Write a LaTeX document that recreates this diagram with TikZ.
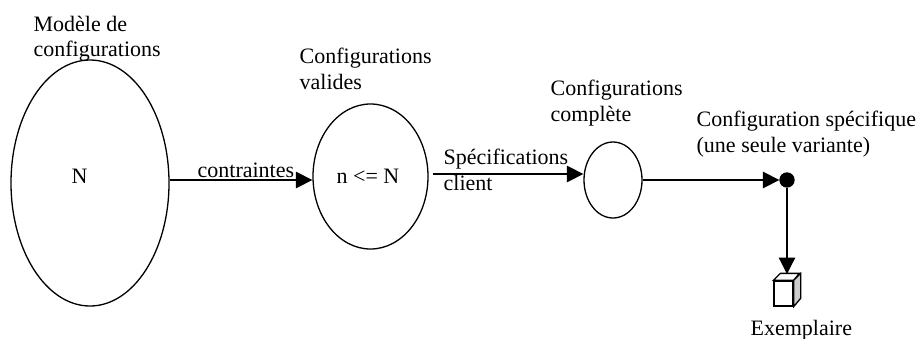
\documentclass[tikz,border=0pt]{standalone}
\usepackage{fontspec}
\setmainfont{Liberation Serif}
\usetikzlibrary{shapes.geometric,arrows.meta}

\begin{document}
\begin{tikzpicture}[x=1pt, y=-1pt, line width=1.3pt,
    main/.style = {draw, ellipse, inner sep=0pt},
    lbl/.style = {inner sep=0pt, align=left, anchor=base west, font=\fontsize{22}{25.7}\selectfont},
    fleche/.style = {-{Triangle[length=16.5pt,width=16.5pt]}}]
            \useasboundingbox (0,0) rectangle (918,338);

            \node[main,minimum width=158pt,minimum height=246pt] (modele) at (90,183) {};
            \node[main,minimum width=115pt,minimum height=145pt] (valides) at (370.5,176.5) {};
            \node[main,minimum width=58pt,minimum height=76pt] (complete) at (613,180) {};
            \node[draw,circle,fill=black,inner sep=0pt,minimum size=14pt] (dot) at (787,180) {};
            \node[draw,fill=white,inner sep=0pt,minimum width=19pt,minimum height=25pt] (boite) at (783.5,293.5) {};
            \draw[fill=white] (boite.north west) -- ++(7,-7) -- ++(19,0) -- (boite.north east) -- cycle;
            \draw[fill=black!20] (boite.north east) -- ++(7,-7) -- ++(0,25) -- (boite.south east) -- cycle;
            \coordinate (boitehaut) at (787,274);
            \coordinate (specdebut) at (433,174);

            \node[lbl] (l1a) at (33,31) {Modèle de};
            \node[lbl] (l1b) at (33,56.7) {configurations};
            \node[lbl] (l2a) at (299,63) {Configurations};
            \node[lbl] (l2b) at (299,89) {valides};
            \node[lbl] (l3a) at (550,95) {Configurations};
            \node[lbl] (l3b) at (550,121) {complète};
            \node[lbl] (l4a) at (696,126) {Configuration spécifique};
            \node[lbl] (l4b) at (696,152) {(une seule variante)};
            \node[lbl] (l5) at (750,335) {Exemplaire};
            \node[lbl] (n1) at (71,183) {N};
            \node[lbl] (n2) at (336,183) {n <= N};
            \node[lbl] (c1) at (197,177) {contraintes};
            \node[lbl] (s1) at (443,164) {Spécifications};
            \node[lbl] (s2) at (443,190) {client};

            \draw[fleche] (modele.east |- dot) to (valides.west |- dot);
            \draw[fleche] (specdebut) to (complete.west |- specdebut);
            \draw[fleche] (complete) to (dot);
            \draw[fleche] (dot) to (boitehaut);
\end{tikzpicture}
\end{document}
